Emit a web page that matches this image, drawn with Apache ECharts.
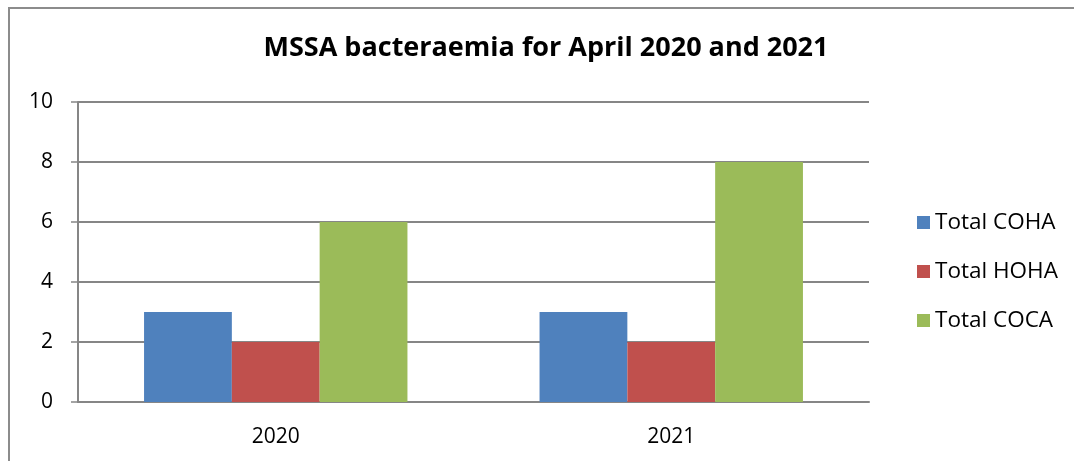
<!DOCTYPE html>
<html>
<head>
<meta charset="utf-8">
<script src="https://cdn.jsdelivr.net/npm/echarts@6/dist/echarts.min.js"></script>
<style>
  html, body { margin: 0; padding: 0; background: #fff; }
  #chart { width: 1074px; height: 461px; }
</style>
</head>
<body>
<div id="chart"></div>
<script>
// Yearly counts of MSSA bacteraemia by onset category
const years = ['2020', '2021'];
const seriesNames = ['Total COHA', 'Total HOHA', 'Total COCA'];
const totalCOHA = [3, 3];
const totalHOHA = [2, 2];
const totalCOCA = [6, 8];
const colors = ['#4F81BD', '#C0504D', '#9BBB59'];

const fontFamily = '"Open Sans", "Noto Sans", sans-serif';
const axisGray = '#868686';

const chart = echarts.init(document.getElementById('chart'), null, { renderer: 'canvas' });

const values = [totalCOHA, totalHOHA, totalCOCA];

chart.setOption({
  animation: false,
  backgroundColor: '#ffffff',
  title: {
    text: 'MSSA bacteraemia for April 2020 and 2021',
    left: 541,
    textAlign: 'center',
    top: 30,
    textStyle: { fontFamily, fontSize: 27, fontWeight: 'bold', color: '#000' }
  },
  graphic: [{
    type: 'rect',
    shape: { x: 9, y: 8, width: 1100, height: 500 },
    style: { fill: 'none', stroke: '#8c8c8c', lineWidth: 2 },
    silent: true
  }],
  legend: {
    orient: 'vertical',
    left: 912,
    top: 206,
    itemWidth: 13,
    itemHeight: 13,
    itemGap: 26,
    icon: 'rect',
    textStyle: { fontFamily, fontSize: 22.5, color: '#000', padding: [0, 0, 0, 0] },
    data: seriesNames
  },
  grid: { left: 78, right: 1074 - 869, top: 102, bottom: 461 - 402, containLabel: false },
  xAxis: {
    type: 'category',
    data: years,
    axisLine: { lineStyle: { color: axisGray, width: 2 } },
    axisTick: { length: 7, lineStyle: { color: axisGray, width: 1.5 } },
    axisLabel: { fontFamily, fontSize: 21, color: '#000', margin: 25 },
    splitLine: { show: false }
  },
  yAxis: {
    type: 'value',
    min: 0,
    max: 10,
    interval: 2,
    axisLine: { show: true, lineStyle: { color: axisGray, width: 2 } },
    axisTick: { show: true, length: 7, lineStyle: { color: axisGray, width: 1.5 } },
    axisLabel: { fontFamily, fontSize: 21, color: '#000', margin: 25 },
    splitLine: { lineStyle: { color: axisGray, width: 2 } }
  },
  series: seriesNames.map((name, i) => ({
    name,
    type: 'bar',
    data: values[i],
    barGap: '0%',
    barCategoryGap: '33.4%',
    itemStyle: { color: colors[i] }
  }))
});
</script>
</body>
</html>
